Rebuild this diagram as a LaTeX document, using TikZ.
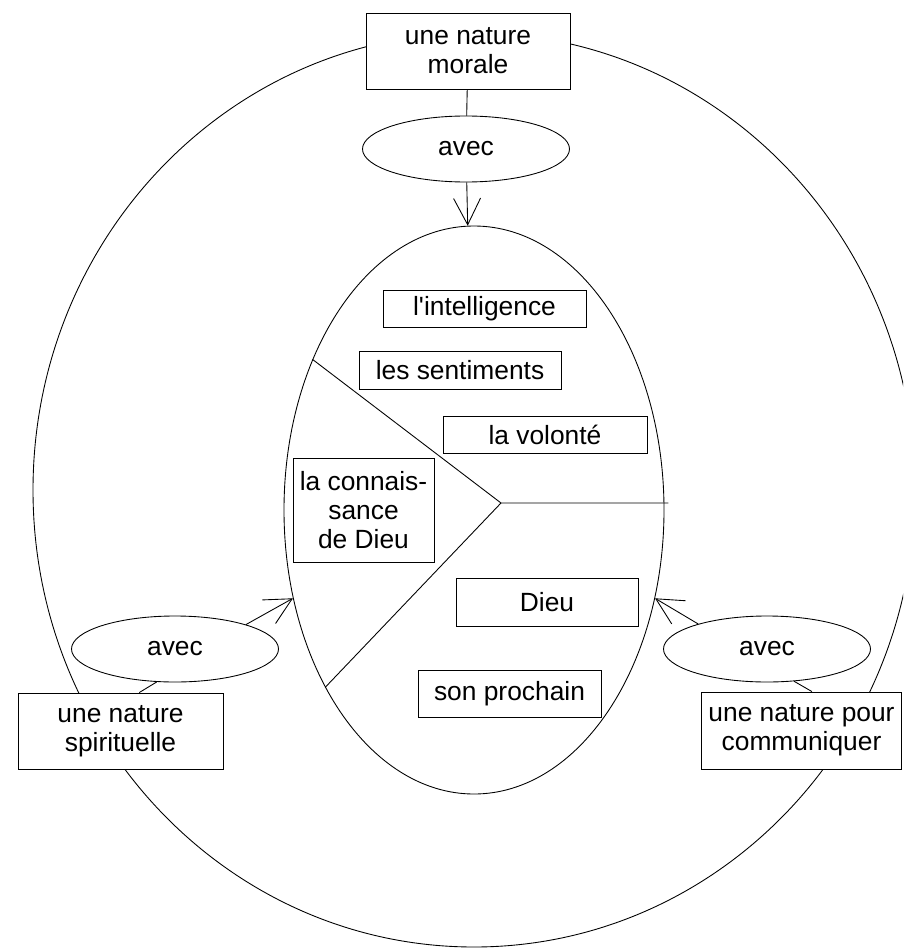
\documentclass[tikz,border=0pt]{standalone}
\usepackage{fontspec}
\setmainfont{Liberation Sans}
\usetikzlibrary{arrows.meta}
\usetikzlibrary{shapes.geometric}

\tikzset{
    box/.style={draw, fill=white, inner sep=0pt, align=center},
    bubble/.style={draw, fill=white, ellipse, inner sep=0pt, minimum width=41.4mm, minimum height=13.2mm},
    flow/.style={-{Straight Barb[length=5.3mm, width=5.4mm]}},
}

\begin{document}
\begin{tikzpicture}[x=0.2mm, y=-0.2mm, line width=0.5pt, font=\fontsize{15}{16.5}\selectfont]
\useasboundingbox (0,0) rectangle (903,948);
\clip (0,0) rectangle (903,948);
\draw (474,490) ellipse [x radius=441, y radius=457];
\node[draw, ellipse, inner sep=0pt, minimum width=76mm, minimum height=113.6mm] (mind) at (474,510) {};

\node[box, minimum width=40.8mm, minimum height=15.2mm] (morale) at (468,51) {une nature\\morale};
\node[bubble] (avecTop) at (466,149) {avec};
\node[bubble] (avecLeft) at (175,649) {avec};
\node[bubble] (avecRight) at (767,649) {avec};
\node[box, minimum width=41mm, minimum height=15.2mm] (spirit) at (120.5,731) {une nature\\spirituelle};
\node[box, minimum width=40mm, minimum height=15.4mm] (commun) at (801.5,730.5) {une nature pour\\communiquer};

\node[box, minimum width=40.6mm, minimum height=7.4mm] (intel) at (484.5,308.5) {l\textquotesingle intelligence};
\node[box, minimum width=40.4mm, minimum height=7.6mm] (senti) at (460,370) {les sentiments};
\node[box, minimum width=40.8mm, minimum height=7.4mm] (volonte) at (545,434.5) {la volonté};
\node[box, minimum width=28.2mm, minimum height=20.8mm] (connais) at (363.5,510) {la connais-\\sance\\de Dieu};
\node[box, minimum width=36.4mm, minimum height=9.6mm] (dieu) at (547,602) {Dieu};
\node[box, minimum width=36.6mm, minimum height=9.4mm] (prochain) at (509.5,693.5) {son prochain};

\coordinate (fork) at (501,503);
\draw (mind.137) -- (fork) -- ([xshift=0.8mm]fork -| mind.east);
\draw (fork) -- (mind.230);

\draw (morale) -- (avecTop);
\draw (spirit.64) -- (avecLeft.241);
\draw (commun.75) -- (avecRight.310);
\draw[flow] (avecTop) -- (mind);
\draw[flow] (avecLeft.19) -- (mind.206);
\draw[flow] (avecRight.160) -- (mind.334);
\end{tikzpicture}
\end{document}
